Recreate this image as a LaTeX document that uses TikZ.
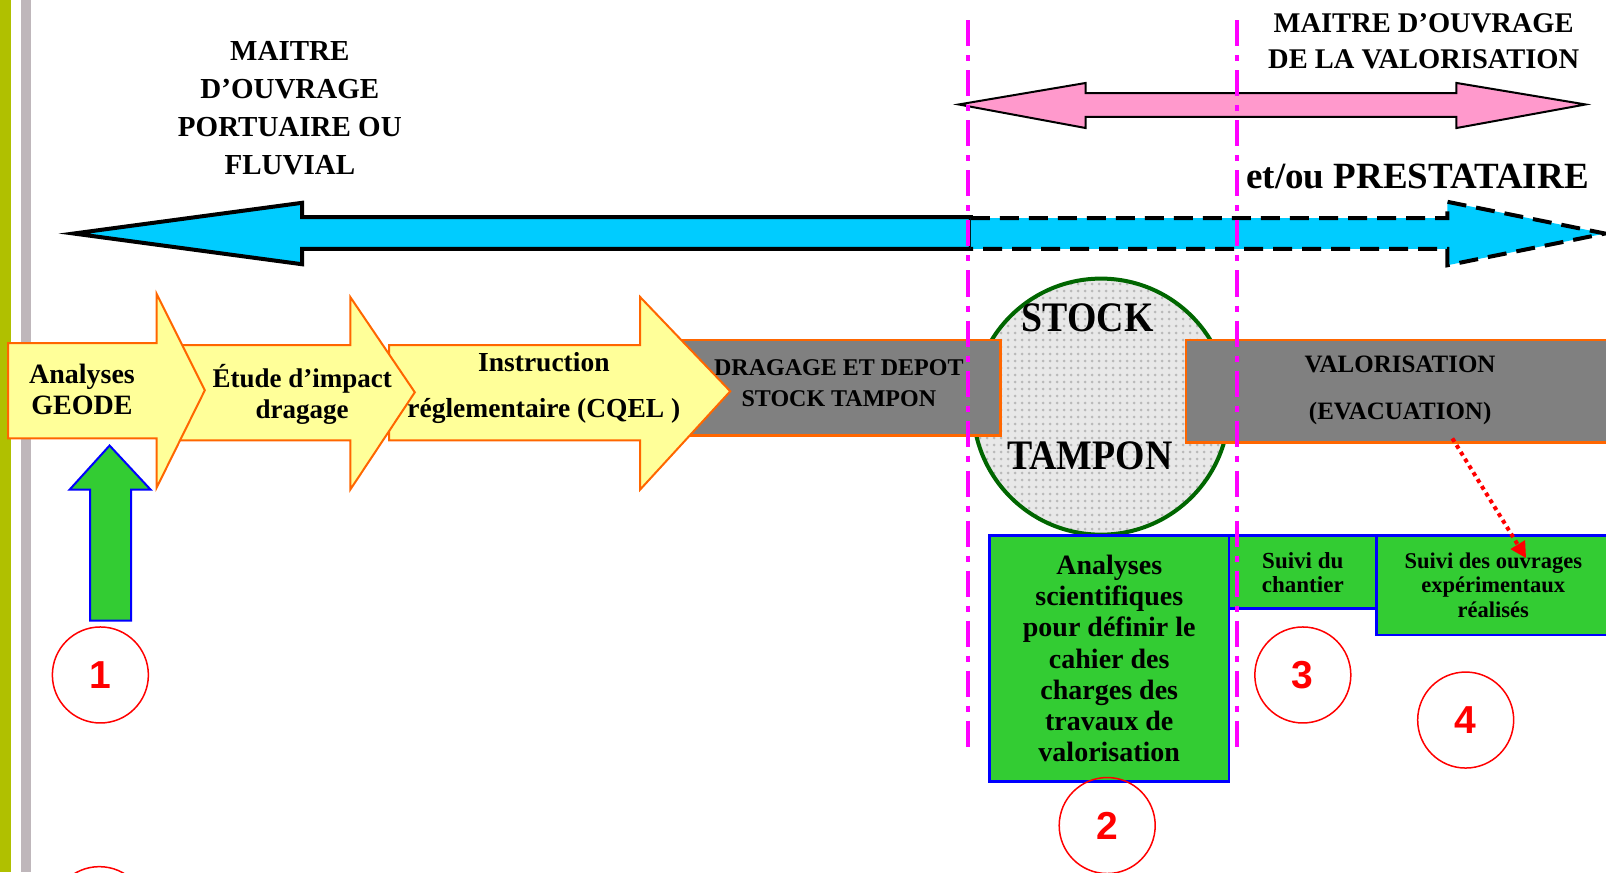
\documentclass[tikz,border=0pt]{standalone}
\usepackage{fontspec}
\setmainfont{Liberation Serif}
\newfontfamily\cb[FakeStretch=0.9]{Liberation Serif}
\newfontfamily\cn{Liberation Serif}
\newfontfamily\numf{Liberation Sans}
\usetikzlibrary{patterns.meta,arrows.meta}
\definecolor{cyanB}{HTML}{00CCFF}
\definecolor{pinkA}{HTML}{FF99CC}
\definecolor{yel}{HTML}{FFFF99}
\definecolor{org}{HTML}{FF6600}
\definecolor{greyB}{HTML}{808080}
\definecolor{grn}{HTML}{33CC33}
\definecolor{dgrn}{HTML}{006600}
\definecolor{mag}{HTML}{FF00FF}
\definecolor{oliveB}{HTML}{B0C000}
\definecolor{lgrey}{HTML}{BFB7BB}
\newcommand{\fsz}[2]{\fontsize{#1}{#2}\selectfont}
\begin{document}
\begin{tikzpicture}[x=1.0242pt,y=-1.0242pt,
  lbl/.style={font=\cn\bfseries, align=center, inner sep=0pt},
  yarrow/.style={fill=yel, draw=org, line width=2pt, line join=miter},
  gbox/.style={fill=grn, draw=blue, line width=2.5pt},
  greybox/.style={fill=greyB, draw=org, line width=2.5pt},
  num/.style={circle, draw=red, line width=1.5pt, minimum size=96pt, inner sep=0pt, text=red, font=\numf\bfseries\fsz{39}{39}},
  magline/.style={mag, line width=4pt, dash pattern=on 26pt off 9pt on 6pt off 9pt}]
\useasboundingbox (0,0) rectangle (1568,851.4);
\fill[white] (0,0) rectangle (1568,851.4);
% left bars
\fill[oliveB] (0,0) rectangle (10.5,851.4);
\fill[lgrey] (20.3,0) rectangle (30.3,851.4);
% blue arrow, solid part
\fill[cyanB] (948,212) -- (295,212) -- (295,198) -- (72,228) -- (295,258) -- (295,243) -- (948,243) -- cycle;
\draw[line width=4pt, line join=miter] (948,212) -- (295,212) -- (295,198) -- (72,228) -- (295,258) -- (295,243) -- (948,243) -- cycle;
% blue arrow, dashed part
\fill[cyanB] (948,213) -- (1413,213) -- (1413,197) -- (1567,228) -- (1413,259) -- (1413,243) -- (948,243) -- cycle;
\draw[line width=4pt, dash pattern=on 19pt off 10pt] (948,213) -- (1413,213) -- (1413,197) -- (1567,228) -- (1413,259) -- (1413,243) -- (948,243);
% pink double arrow
\draw[fill=pinkA, line width=2pt, line join=miter] (936,102) -- (1060,81) -- (1060,91) -- (1422,91) -- (1422,81) -- (1548,102) -- (1422,125) -- (1422,114) -- (1060,114) -- (1060,125) -- cycle;
% headings
\node[lbl, font=\cn\bfseries\fsz{29}{38}] (mo1) at (283,106) {MAITRE\\D’OUVRAGE\\PORTUAIRE OU\\FLUVIAL};
\node[lbl, font=\cn\bfseries\fsz{28.5}{36}] (mo2) at (1390,40) {MAITRE D’OUVRAGE\\DE LA VALORISATION};
\node[lbl, font=\cn\bfseries\fsz{37}{40}] (presta) at (1384,172) {et/ou PRESTATAIRE};
% stock circle
\fill[white] (1075,397) circle (125);
\fill[gray!18] (1075,397) circle (125);
\fill[pattern={Dots[distance=7pt,radius=1.5pt]}, pattern color=gray!55] (1075,397) circle (125);
\draw[dgrn, line width=4pt] (1075,397) circle (125);
\node[lbl, font=\cb\bfseries\fsz{42}{42}] (stock) at (1062,310) {STOCK};
\node[lbl, font=\cb\bfseries\fsz{42}{42}] (tampon) at (1064,445) {TAMPON};
% grey boxes
\draw[greybox] (665,332) rectangle (977,425);
\node[lbl, font=\cn\bfseries\fsz{24}{31}] (drag) at (819,374) {DRAGAGE ET DEPOT\\STOCK TAMPON};
\draw[greybox] (1158,332) rectangle (1580,432);
\node[lbl, font=\cn\bfseries\fsz{25}{47}] (valo) at (1367,381) {VALORISATION\\(EVACUATION)};
% yellow arrows
\draw[yarrow] (380,337) -- (625,337) -- (625,290) -- (713,382) -- (625,478) -- (625,430) -- (380,430) -- cycle;
\draw[yarrow] (175,337) -- (342,337) -- (342,290) -- (405,383) -- (342,478) -- (342,430) -- (175,430) -- cycle;
\draw[yarrow] (8,335) -- (153,335) -- (153,287) -- (200,381) -- (153,476) -- (153,428) -- (8,428) -- cycle;
\node[lbl, font=\cn\bfseries\fsz{28}{31}] (geode) at (80,380) {Analyses\\GEODE};
\node[lbl, font=\cn\bfseries\fsz{27}{31}] (etude) at (295,385) {Étude d’impact\\dragage};
\node[lbl, font=\cn\bfseries\fsz{27.5}{46}] (instr) at (531,379) {Instruction\\réglementaire (CQEL )};
% green boxes
\draw[gbox] (966,523) rectangle (1200,763);
\draw[gbox] (1200,523) rectangle (1344,594);
\draw[gbox] (1344,523) rectangle (1580,620);
\node[lbl, font=\cn\bfseries\fsz{28}{31.2}] (sci) at (1083,643) {Analyses\\scientifiques\\pour définir le\\cahier des\\charges des\\travaux de\\valorisation};
\node[lbl, font=\cn\bfseries\fsz{23}{24}] (chant) at (1272,559) {Suivi du\\chantier};
\node[lbl, font=\cn\bfseries\fsz{22.5}{24.5}] (ouvr) at (1458,571) {Suivi des ouvrages\\expérimentaux\\réalisés};
% green up arrow
\draw[fill=grn, draw=blue, line width=2pt, line join=miter] (107,435) -- (147,478) -- (128,478) -- (128,606) -- (88,606) -- (88,478) -- (68,478) -- cycle;
% red dotted arrow
\coordinate (rdA) at (1418,428);
\coordinate (rdB) at (1490,545);
\draw[red, line width=4pt, dash pattern=on 4pt off 4pt, -{Triangle[length=16pt,width=16pt]}] (rdA) -- (rdB);
% magenta lines
\draw[magline] (945,20) -- (945,730);
\draw[magline] (1208,20) -- (1208,735);
% numbers
\node[num] (n1) at (98,659) {1};
\node[num] (n2) at (1081,806) {2};
\node[num] (n3) at (1272,659) {3};
\node[num] (n4) at (1431,703) {4};
\node[num] (n5) at (97,893) {};
\end{tikzpicture}
\end{document}
